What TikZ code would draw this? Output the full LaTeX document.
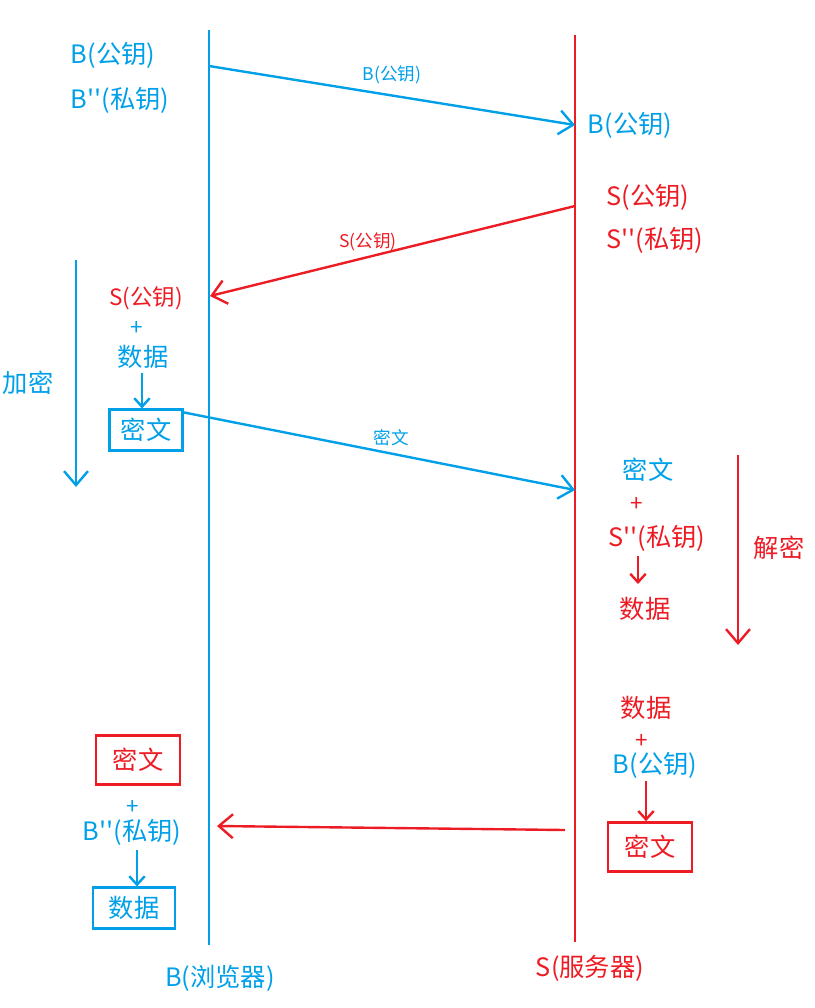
\documentclass[tikz,border=0pt]{standalone}
\usepackage{fontspec}
\newfontfamily\cjk{Noto Sans CJK SC}
\usetikzlibrary{positioning, arrows.meta}
\definecolor{bblue}{RGB}{0,160,233}
\definecolor{sred}{RGB}{237,28,36}

\begin{document}
\begin{tikzpicture}[x=0.025cm, y=-0.025cm, line width=1.7pt,
                    every node/.style={font=\cjk, inner sep=0pt},
                    big/.style={font=\cjk\fontsize{18}{20}\selectfont},
                    mid/.style={font=\cjk\fontsize{16}{18}\selectfont},
                    small/.style={font=\cjk\fontsize{12.5}{15}\selectfont},
                    msgbox/.style={draw, line width=1.7pt, font=\cjk\fontsize{18}{20}\selectfont},
                    >={Straight Barb[length=10pt, width=17pt]},
                    shortarrow/.style={-{Straight Barb[length=6pt, width=11pt]}}]
                        \useasboundingbox (0,0) rectangle (815,1008);
                        % lifelines
                        \coordinate (btop) at (209,30);
                        \coordinate (bbot) at (209,945);
                        \coordinate (stop) at (575,35);
                        \coordinate (sbot) at (575,942);
                        \draw[bblue] (btop) -- (bbot);
                        \draw[sred] (stop) -- (sbot);
                        \node[big, bblue] (bname) at (220,978) {B(浏览器)};
                        \node[big, sred] (sname) at (590,968) {S(服务器)};

                        % keys
                        \node[big, bblue] (bpub) at (113,55) {B(公钥)};
                        \node[big, bblue] (bpriv) at (120,100) {B{'}{'}(私钥)};
                        \node[big, bblue] (sgotb) at (630,125) {B(公钥)};
                        \node[big, sred] (spub) at (648,197) {S(公钥)};
                        \node[big, sred] (spriv) at (655,240) {S{'}{'}(私钥)};

                        % encrypt on B
                        \node[mid, sred] (bgots) at (146,298) {S(公钥)};
                        \node[mid, bblue] (plus1) at (137,328) {+};
                        \node[big, bblue] (data1) at (143,357) {数据};
                        \node[msgbox, bblue, minimum width=52pt, minimum height=29pt] (cipher1) at (146,430) {密文};
                        \draw[bblue, shortarrow] (142,373) -- (cipher1.north -| 142,0);
                        \node[big, bblue] (enc) at (28,383) {加密};
                        \coordinate (enctop) at (76,260);
                        \coordinate (encbot) at (76,487);
                        \draw[bblue, ->] (enctop) -- (encbot);

                        % decrypt on S
                        \node[big, bblue] (cipher2) at (648,470) {密文};
                        \node[mid, sred] (plus2) at (637,504) {+};
                        \node[big, sred] (spriv2) at (657,538) {S{'}{'}(私钥)};
                        \node[big, sred] (data2) at (645,609) {数据};
                        \draw[sred, shortarrow] (638,556) -- (638,584);
                        \node[big, sred] (dec) at (779,548) {解密};
                        \coordinate (dectop) at (738,455);
                        \coordinate (decbot) at (738,645);
                        \draw[sred, ->] (dectop) -- (decbot);

                        % reply on S
                        \node[big, sred] (data3) at (646,708) {数据};
                        \node[mid, sred] (plus3) at (642,741) {+};
                        \node[big, bblue] (bpub3) at (655,765) {B(公钥)};
                        \node[msgbox, sred, minimum width=60pt, minimum height=35pt] (cipher3) at (650,847) {密文};
                        \draw[sred, shortarrow] (646,781) -- (cipher3.north -| 646,0);

                        % decrypt on B
                        \node[msgbox, sred, minimum width=60pt, minimum height=35pt] (cipher4) at (138,760) {密文};
                        \node[mid, bblue] (plus4) at (133,807) {+};
                        \node[big, bblue] (bpriv4) at (132,832) {B{'}{'}(私钥)};
                        \node[msgbox, bblue, minimum width=58pt, minimum height=29pt] (data4) at (134,908) {数据};
                        \draw[bblue, shortarrow] (137,850) -- (data4.north -| 137,0);

                        % messages
                        \coordinate (m1a) at (209,66);
                        \coordinate (m1b) at (575,125);
                        \draw[bblue, ->] (m1a) -- (m1b);
                        \node[small, bblue] (m1) at (392,75) {B(公钥)};
                        \coordinate (m2a) at (575,206);
                        \coordinate (m2b) at (210,296);
                        \draw[sred, ->] (m2a) -- (m2b);
                        \node[small, sred] (m2) at (368,242) {S(公钥)};
                        \coordinate (m3b) at (575,490);
                        \draw[bblue, ->] (cipher1.north east) ++(0,4) -- (m3b);
                        \node[small, bblue] (m3) at (391,438) {密文};
                        \coordinate (m4a) at (565,830);
                        \coordinate (m4b) at (217,826);
                        \draw[sred, ->] (m4a) -- (m4b);
                    \end{tikzpicture}
\end{document}
